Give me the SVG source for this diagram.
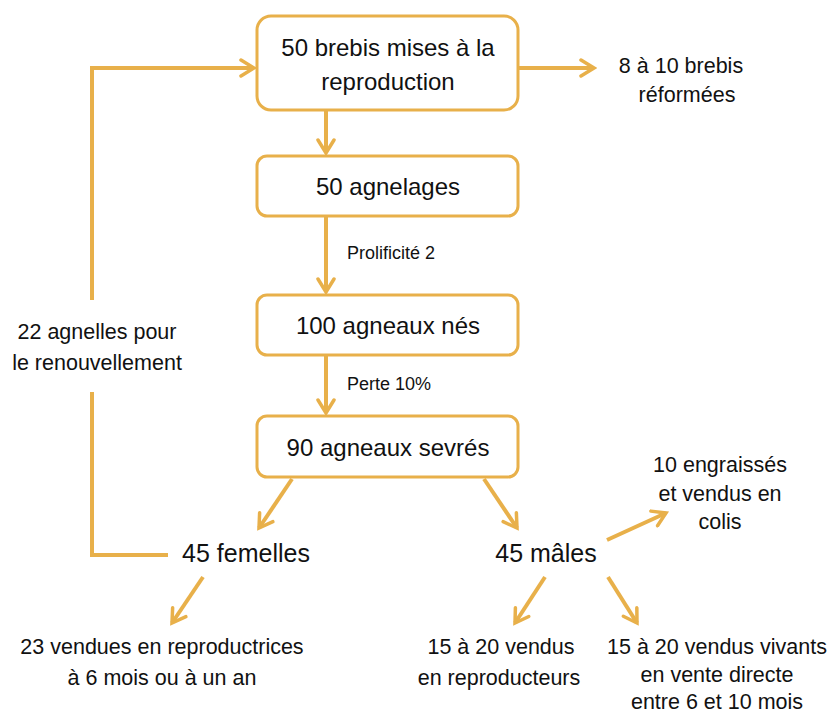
<svg xmlns="http://www.w3.org/2000/svg" width="830" height="714" viewBox="0 0 830 714">
<defs>
<style>
.box{fill:#fff;stroke:#E8B04A;stroke-width:3}
.ln{fill:none;stroke:#E8B04A;stroke-width:4}
text{font-family:"Liberation Sans",Arial,sans-serif;fill:#111;text-anchor:middle}
.big{font-size:24px}
.xl{font-size:25px}
.mid{font-size:21.5px}
.sm{font-size:18px;text-anchor:start}
</style>
<marker id="ah2" viewBox="0 0 20 20" refX="17" refY="10" markerWidth="20" markerHeight="20" markerUnits="userSpaceOnUse" orient="auto">
<path d="M4,2 L17,10 L4,18" fill="none" stroke="#E8B04A" stroke-width="3.5" stroke-linecap="round"/>
</marker>
</defs>
<rect width="830" height="714" fill="#fff"/>
<g id="connectors">
<line class="ln" x1="326" y1="111" x2="326" y2="153" marker-end="url(#ah2)"/>
<line class="ln" x1="326" y1="217" x2="326" y2="292" marker-end="url(#ah2)"/>
<line class="ln" x1="326" y1="356" x2="326" y2="413" marker-end="url(#ah2)"/>
<line class="ln" x1="519" y1="68" x2="594" y2="68" marker-end="url(#ah2)"/>
<polyline class="ln" points="92,300 92,68 254,68" marker-end="url(#ah2)"/>
<polyline class="ln" points="92,392 92,555 168,555"/>
<line class="ln" x1="292" y1="479" x2="259" y2="528" marker-end="url(#ah2)"/>
<line class="ln" x1="484" y1="479" x2="517" y2="528" marker-end="url(#ah2)"/>
<line class="ln" x1="607" y1="540" x2="666" y2="513" marker-end="url(#ah2)"/>
<line class="ln" x1="203" y1="577" x2="172" y2="623" marker-end="url(#ah2)"/>
<line class="ln" x1="545" y1="577" x2="515" y2="623" marker-end="url(#ah2)"/>
<line class="ln" x1="608" y1="577" x2="637" y2="623" marker-end="url(#ah2)"/>
</g>
<g id="n1"><rect class="box" x="257" y="16" width="261" height="94" rx="14"/>
<text class="big" x="388" y="56">50 brebis mises à la</text>
<text class="big" x="388" y="90">reproduction</text></g>
<g id="n2"><rect class="box" x="257" y="156" width="261" height="60" rx="10"/>
<text class="big" x="388" y="195">50 agnelages</text></g>
<g id="n3"><rect class="box" x="257" y="295" width="261" height="60" rx="10"/>
<text class="big" x="388" y="334">100 agneaux nés</text></g>
<g id="n4"><rect class="box" x="257" y="416" width="261" height="61" rx="10"/>
<text class="big" x="388" y="456">90 agneaux sevrés</text></g>
<g id="lbl1"><text class="sm" x="347" y="259">Prolificité 2</text></g>
<g id="lbl2"><text class="sm" x="347" y="390">Perte 10%</text></g>
<g id="n5"><text class="mid" x="681" y="73">8 à 10 brebis</text>
<text class="mid" x="687" y="102">réformées</text></g>
<g id="n6"><text class="mid" x="97" y="339">22 agnelles pour</text>
<text class="mid" x="97" y="370">le renouvellement</text></g>
<g id="n7"><text class="xl" x="246" y="562">45 femelles</text></g>
<g id="n8"><text class="xl" x="546" y="562">45 mâles</text></g>
<g id="n9"><text class="mid" x="720" y="472">10 engraissés</text>
<text class="mid" x="720" y="501">et vendus en</text>
<text class="mid" x="720" y="529">colis</text></g>
<g id="n10"><text class="mid" x="162" y="654">23 vendues en reproductrices</text>
<text class="mid" x="162" y="685">à 6 mois ou à un an</text></g>
<g id="n11"><text class="mid" x="501" y="654">15 à 20 vendus</text>
<text class="mid" x="499" y="685">en reproducteurs</text></g>
<g id="n12"><text class="mid" x="717" y="654">15 à 20 vendus vivants</text>
<text class="mid" x="717" y="682">en vente directe</text>
<text class="mid" x="717" y="709">entre 6 et 10 mois</text></g>
</svg>
